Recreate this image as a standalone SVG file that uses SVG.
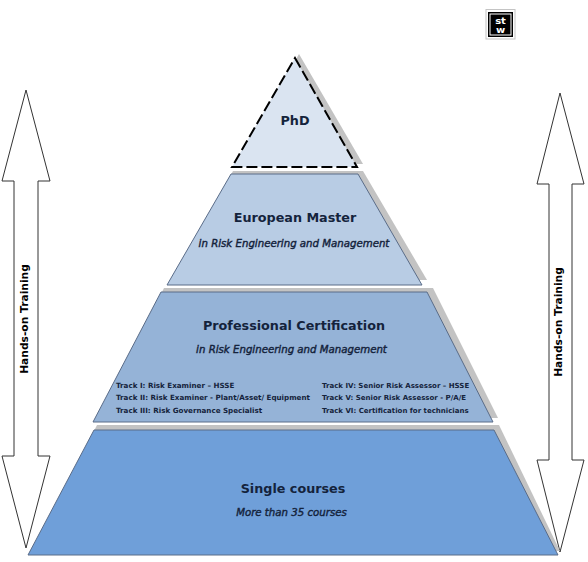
<svg xmlns="http://www.w3.org/2000/svg" width="588" height="562" viewBox="0 0 588 562">
<style>
text{font-family:"DejaVu Sans",Verdana,sans-serif;fill:#14233c;text-anchor:middle}
.h{font-weight:bold;font-size:12.75px}
.s{font-style:italic;font-size:10.2px;stroke:#14233c;stroke-width:.4px}
.t{font-weight:bold;font-size:7.15px;text-anchor:start}
.r{font-size:7px}
.a{fill:#fff;stroke:#333;stroke-width:1}
.sh{fill:#c3c3c3}
.e{stroke:#5a6c88;stroke-width:1}
.v{font-weight:bold;font-size:10.7px;fill:#000}
.l{font-weight:bold;font-size:8px;fill:#fff}
</style>
<g id="connectors">
<polygon class="a" points="26,90 50,181 38,181 38,456 50,456 26,548 2,456 14,456 14,181 2,181"/>
<polygon class="a" points="560,93 584,184 572,184 572,460 584,460 560,552 537,460 549,460 549,184 537,184"/>
</g>
<g id="left-label"><text class="v" transform="translate(28,319) rotate(-90)">Hands-on Training</text></g>
<g id="right-label"><text class="v" transform="translate(562,322) rotate(-90)">Hands-on Training</text></g>
<g id="logo">
<rect x="486" y="9.500" width="29" height="29.500" fill="#fff" stroke="#c4c4c4"/>
<rect x="488" y="12" width="25" height="25" fill="#000"/>
<rect x="490" y="14" width="21" height="21" fill="none" stroke="#fff"/>
<text class="l" transform="translate(500.500,24) scale(1.25,1)">st</text>
<text class="l" transform="translate(500.500,32.500) scale(1.25,1)">w</text>
</g>
<g id="phd">
<polygon class="sh" points="299,54 363,164 238,164"/>
<polygon points="295,58 357,167 232,167" fill="#dae4f1" stroke="#000" stroke-width="2" stroke-dasharray="11 4"/>
<text class="h" x="295" y="125">PhD</text>
</g>
<g id="master">
<polygon class="sh" points="233,171 363,171 427,280 172,280"/>
<polygon class="e" points="231,174 358,174 422,285 167,285" fill="#b8cce4"/>
<text class="h" x="295" y="222">European Master</text>
<text class="s" x="294" y="247">in Risk Engineering and Management</text>
</g>
<g id="professional">
<polygon class="sh" points="164,288 433,288 498,418 98,418"/>
<polygon class="e" points="161,292 427,292 493,422 93,422" fill="#95b3d7"/>
<text class="h" x="294" y="330">Professional Certification</text>
<text class="s" x="291.500" y="353">in Risk Engineering and Management</text>
<text class="t" x="116" y="388">Track I: Risk Examiner – HSSE</text>
<text class="t" x="116" y="400">Track II: Risk Examiner - Plant/Asset/ Equipment</text>
<text class="t" x="116" y="413">Track III: Risk Governance Specialist</text>
<text class="t r" x="322" y="388">Track IV: Senior Risk Assessor – HSSE</text>
<text class="t r" x="322" y="400">Track V: Senior Risk Assessor - P/A/E</text>
<text class="t r" x="322" y="413">Track VI: Certification for technicians</text>
</g>
<g id="single">
<polygon class="sh" points="97,425 499,425 560,551 33,551"/>
<polygon class="e" points="94,430 494,430 558,555 28,555" fill="#6f9fd9"/>
<text class="h" x="293" y="493">Single courses</text>
<text class="s" x="291.500" y="516">More than 35 courses</text>
</g>
</svg>
